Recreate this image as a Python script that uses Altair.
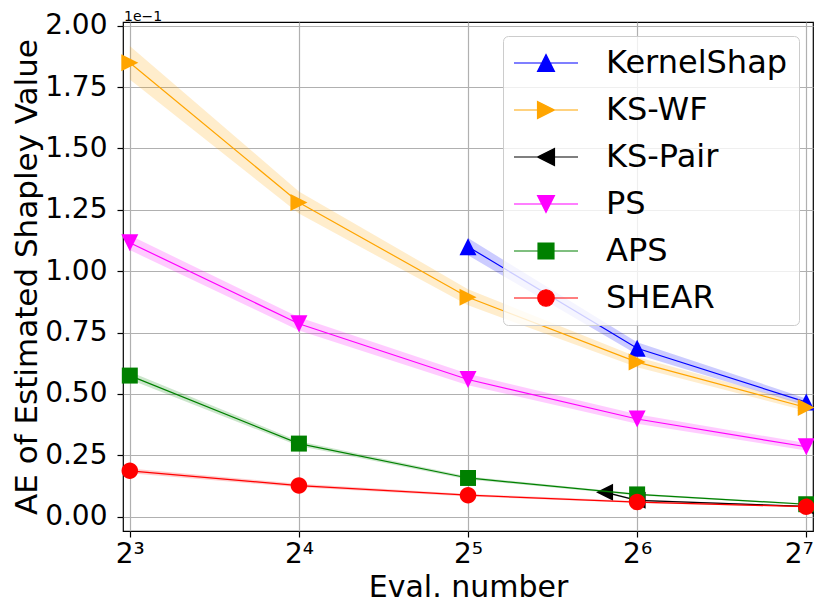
import altair as alt
import pandas as pd

methods = ["KernelShap", "KS-WF", "KS-Pair", "PS", "APS", "SHEAR"]
colors = ["#0000ff", "#ffa500", "#000000", "#ff00ff", "#008000", "#ff0000"]

ks_x = [32, 64, 128]
kswf_x = [8, 16, 32, 64, 128]
kspair_x = [56, 64, 128]
ps_x = [8, 16, 32, 64, 128]
aps_x = [8, 16, 32, 64, 128]
shear_x = [8, 16, 32, 64, 128]

ks_mean = [1.100, 0.686, 0.467]
kswf_mean = [1.849, 1.280, 0.894, 0.630, 0.445]
kspair_mean = [0.100, 0.067, 0.042]
ps_mean = [1.116, 0.786, 0.559, 0.398, 0.285]
aps_mean = [0.575, 0.298, 0.158, 0.091, 0.051]
shear_mean = [0.187, 0.127, 0.088, 0.060, 0.041]

ks_hw = [0.035, 0.025, 0.015]
kswf_hw = [0.068, 0.045, 0.033, 0.021, 0.014]
kspair_hw = [0.004, 0.003, 0.002]
ps_hw = [0.030, 0.027, 0.023, 0.019, 0.015]
aps_hw = [0.016, 0.010, 0.006, 0.004, 0.003]
shear_hw = [0.010, 0.007, 0.005, 0.004, 0.003]

x_ticks = [8, 16, 32, 64, 128]
y_ticks = [0, 0.25, 0.5, 0.75, 1.0, 1.25, 1.5, 1.75, 2.0]
x_lo, x_hi = 7.78, 131.6
y_lo, y_hi = -0.058, 2.015
offset_text = "1e−1"

xs = [ks_x, kswf_x, kspair_x, ps_x, aps_x, shear_x]
means = [ks_mean, kswf_mean, kspair_mean, ps_mean, aps_mean, shear_mean]
hws = [ks_hw, kswf_hw, kspair_hw, ps_hw, aps_hw, shear_hw]

rows = []
for k, m in enumerate(methods):
    for xv, mv, hv in zip(xs[k], means[k], hws[k]):
        rows.append({"method": m, "k": k, "x": xv, "mean": mv, "lo": mv - hv, "hi": mv + hv})
df = pd.DataFrame(rows)

marker_paths = {
    "up": [(0, -1), (1, 1), (-1, 1)],
    "right": [(-1, -1), (1, 0), (-1, 1)],
    "left": [(1, -1), (-1, 0), (1, 1)],
    "down": [(-1, -1), (1, -1), (0, 1)],
    "square": [(-0.94, -0.94), (0.94, -0.94), (0.94, 0.94), (-0.94, 0.94)],
}
kinds = ["up", "right", "left", "down", "square", "circle"]


def poly(pts, s=1.0, dx=0.0):
    return "M" + "L".join(f"{x*s+dx:.3f},{y*s:.3f}" for x, y in pts) + "Z"


def circ(rad, dx=0.0):
    return (f"M{dx-rad:.3f},0A{rad},{rad},0,1,1,{dx+rad:.3f},0"
            f"A{rad},{rad},0,1,1,{dx-rad:.3f},0Z")


pt_paths = [poly(marker_paths[k]) if k != "circle" else circ(0.97) for k in kinds]

c = 2.0
leg_paths = []
for k in kinds:
    mk = poly(marker_paths[k], 1.06, c) if k != "circle" else circ(1.03, c)
    leg_paths.append(f"M{c-4},0H{c+4}" + mk)

FONT = "DejaVu Sans"

xscale = alt.Scale(type="log", base=2, domain=[x_lo, x_hi], nice=False)
yscale = alt.Scale(domain=[y_lo, y_hi], nice=False, zero=False)

xaxis = alt.Axis(
    values=x_ticks,
    labelExpr="'2' + ['⁰','¹','²','³','⁴','⁵','⁶','⁷','⁸'][round(log(datum.value)/log(2))]",
    title="Eval. number", labelFontSize=28, titleFontSize=30, labelFont=FONT, titleFont=FONT,
    labelColor="black", titleColor="black", titleFontWeight="normal",
    grid=True, gridColor="#b0b0b0", gridWidth=1.2, domain=False,
    tickColor="black", tickSize=6, tickWidth=1.2,
    labelBaseline="alphabetic", labelPadding=25,
    titleBaseline="alphabetic", titleY=65.5,
    labelFlush=False, labelOverlap=False,
    labelOffset={"condition": {"test": "datum.value >= 128", "value": -7.5}, "value": 0},
)
yaxis = alt.Axis(
    values=y_ticks, format=".2f",
    title="AE of Estimated Shapley Value", labelFontSize=28, titleFontSize=31,
    labelFont=FONT, titleFont=FONT, labelColor="black", titleColor="black",
    titleFontWeight="normal", grid=True, gridColor="#b0b0b0", gridWidth=1.2,
    domain=False, tickColor="black", tickSize=6, tickWidth=1.2, labelPadding=10,
    titleBaseline="alphabetic", titleX=-86.5,
    labelFlush=False, labelOverlap=False,
)

X = alt.X("x:Q", scale=xscale, axis=xaxis)
Ym = alt.Y("mean:Q", scale=yscale, axis=yaxis)
base = alt.Chart(df)

layers = []
for k, m in enumerate(methods):
    sub = base.transform_filter(alt.datum.method == m)
    layers.append(sub.mark_area(color=colors[k], fillOpacity=0.2).encode(
        x=X, y=alt.Y("lo:Q", scale=yscale, axis=yaxis), y2=alt.Y2("hi:Q")))
    layers.append(sub.mark_line(color=colors[k], strokeWidth=1.2).encode(
        x=X, y=Ym, order=alt.Order("x:Q")))
    layers.append(sub.mark_point(shape=pt_paths[k], size=289, filled=True, opacity=1,
                                 color=colors[k], strokeWidth=0).encode(x=X, y=Ym))

leg = alt.Legend(
    title=None, orient="top-right", offset=14,
    labelFont=FONT, labelFontSize=32, labelColor="black", labelLimit=400,
    labelOffset=60, rowPadding=15, padding=11, symbolSize=256,
    symbolStrokeWidth=1.2, symbolOpacity=1,
    fillColor="rgba(255,255,255,0.8)", strokeColor="#cccccc", cornerRadius=5,
)
legend_layer = base.mark_point(filled=True, opacity=1, size=0).encode(
    x=X, y=Ym,
    fill=alt.Fill("method:N", scale=alt.Scale(domain=methods, range=colors), legend=leg),
    stroke=alt.Stroke("method:N", scale=alt.Scale(domain=methods, range=colors), legend=leg),
    shape=alt.Shape("method:N", scale=alt.Scale(domain=methods, range=leg_paths), legend=leg),
)
layers.append(legend_layer)

offset_layer = alt.Chart(pd.DataFrame({"label": [offset_text]})).mark_text(
    align="left", baseline="alphabetic", dx=1, dy=-1.5, fontSize=14, font=FONT, color="black"
).encode(
    x=alt.X(datum=x_lo, scale=xscale, axis=xaxis),
    y=alt.Y(datum=y_hi, scale=yscale, axis=yaxis),
    text="label:N",
)
layers.append(offset_layer)

chart = alt.layer(*layers).properties(
    width=690, height=509,
    padding={"left": 115, "top": 14, "right": 1, "bottom": 73},
    autosize=alt.AutoSizeParams(type="none"),
).configure(background="white", view=alt.ViewConfig(stroke="black", strokeWidth=1.2))

chart.save("out.html", embed_options={"renderer": "svg", "actions": False})
